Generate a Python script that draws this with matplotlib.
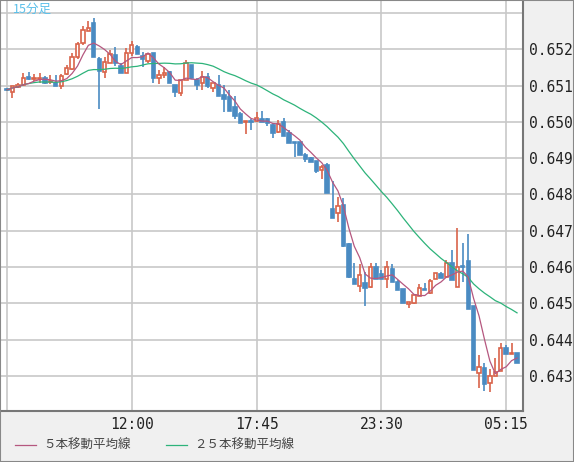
import matplotlib
matplotlib.use("Agg")
import matplotlib.pyplot as plt
from matplotlib.lines import Line2D
from matplotlib.patches import Rectangle
import numpy as np
import pandas as pd

plt.rcParams['font.family'] = ['Noto Sans CJK JP', 'DejaVu Sans']

# 15 minute bars, open / high / low / close
opens = [.65091, .65083, .65096, .65102, .65124, .65118, .65118, .65121, .65110, .65107,
         .65099, .65132, .65146, .65179, .65218, .65251, .65273, .65173, .65138, .65162,
         .65184, .65154, .65135, .65190, .65207, .65182, .65168, .65190, .65121, .65129,
         .65138, .65102, .65080, .65116, .65157, .65116, .65107, .65124, .65094, .65102,
         .65074, .65069, .65041, .65022, .65000, .65003, .65003, .65008, .65008, .64992,
         .64972, .65000, .64970, .64945, .64945, .64909, .64901, .64892, .64868, .64881,
         .64760, .64749, .64771, .64664, .64567, .64548, .64556, .64545, .64600, .64581,
         .64567, .64595, .64559, .64540, .64499, .64501, .64521, .64540, .64529, .64567,
         .64581, .64573, .64611, .64545, .64603, .64617, .64493, .64308, .64322, .64281,
         .64300, .64314, .64377, .64361, .64363]
highs = [.65094, .65099, .65107, .65135, .65138, .65132, .65135, .65127, .65129, .65129,
         .65132, .65157, .65190, .65220, .65264, .65278, .65286, .65179, .65179, .65198,
         .65207, .65162, .65204, .65223, .65212, .65193, .65190, .65190, .65143, .65151,
         .65140, .65102, .65116, .65171, .65157, .65121, .65140, .65135, .65107, .65129,
         .65102, .65088, .65072, .65027, .65003, .65008, .65027, .65030, .65011, .64997,
         .65005, .65011, .64978, .64945, .64945, .64914, .64903, .64892, .64881, .64887,
         .64837, .64793, .64791, .64667, .64611, .64609, .64587, .64611, .64611, .64592,
         .64617, .64609, .64565, .64540, .64504, .64523, .64554, .64556, .64567, .64584,
         .64587, .64620, .64647, .64708, .64667, .64691, .64493, .64358, .64336, .64319,
         .64350, .64391, .64386, .64391, .64363]
lows = [.65085, .65066, .65094, .65099, .65116, .65113, .65107, .65105, .65105, .65099,
        .65091, .65129, .65143, .65173, .65212, .65251, .65179, .65036, .65121, .65162,
        .65154, .65135, .65135, .65182, .65187, .65151, .65162, .65107, .65105, .65121,
        .65107, .65069, .65072, .65116, .65118, .65088, .65088, .65094, .65083, .65072,
        .65027, .65030, .65008, .64997, .64967, .64978, .65000, .65000, .64989, .64956,
        .64970, .64961, .64942, .64903, .64909, .64890, .64890, .64859, .64843, .64804,
        .64735, .64724, .64656, .64570, .64554, .64532, .64493, .64543, .64567, .64567,
        .64543, .64559, .64537, .64501, .64487, .64499, .64521, .64537, .64526, .64567,
        .64570, .64573, .64565, .64545, .64559, .64485, .64317, .64267, .64259, .64256,
        .64300, .64314, .64361, .64361, .64336]
closes = [.65088, .65099, .65102, .65121, .65118, .65121, .65121, .65107, .65113, .65099,
          .65127, .65149, .65179, .65215, .65253, .65259, .65179, .65140, .65165, .65187,
          .65162, .65135, .65190, .65212, .65187, .65173, .65187, .65121, .65129, .65135,
          .65107, .65083, .65116, .65162, .65121, .65102, .65124, .65099, .65107, .65072,
          .65063, .65030, .65016, .64997, .65003, .65000, .65011, .65000, .64997, .64970,
          .64994, .64961, .64942, .64942, .64909, .64898, .64890, .64865, .64876, .64804,
          .64735, .64768, .64658, .64573, .64554, .64578, .64543, .64600, .64567, .64567,
          .64600, .64559, .64537, .64501, .64504, .64523, .64543, .64537, .64562, .64584,
          .64570, .64611, .64565, .64600, .64600, .64485, .64317, .64325, .64278, .64300,
          .64311, .64377, .64361, .64363, .64336]

tick_pos = [0, 23, 46, 69, 92]
tick_lbl = ["", "12:00", "17:45", "23:30", "05:15"]
y_ticks = [0.643, 0.644, 0.645, 0.646, 0.647, 0.648, 0.649, 0.650, 0.651, 0.652, 0.653]

up_col = '#d9634a'
dn_col = '#4a8bc2'
ma5_col = '#b5577f'
ma25_col = '#2db37a'

fig = plt.figure(figsize=(5.74, 4.62), dpi=100, facecolor='#f0f0f0')
ax = fig.add_axes([1/574, 1 - 411/462, 522/574, 410/462])
ax.set_facecolor('white')

x = np.arange(len(closes))
ser = pd.Series(closes)
ma5 = ser.rolling(5, min_periods=1).mean()
ma25 = ser.rolling(25, min_periods=1).mean()

w = 0.62
for i in x:
    o, h, l, c = opens[i], highs[i], lows[i], closes[i]
    up = c >= o
    col = up_col if up else dn_col
    ax.vlines(i, l, h, color=col, lw=1.2, zorder=2)
    rect = Rectangle((i - w/2, min(o, c)), w, max(abs(c - o), 0.000012),
                     facecolor='white' if up else col, edgecolor=col, lw=1.2, zorder=3)
    ax.add_patch(rect)

ax.plot(x, ma25, color=ma25_col, lw=0.9, zorder=4)
ax.plot(x, ma5, color=ma5_col, lw=0.9, zorder=4)

ax.set_xlim(-1.1, 95.1)
ax.set_ylim(0.642036, 0.65333)
ax.set_xticks(tick_pos)
ax.set_xticklabels(tick_lbl, family='DejaVu Sans Mono', fontsize=10.5, color='#222')
ax.set_yticks(y_ticks)
ax.set_yticklabels([f"{v:.3f}" for v in y_ticks[:-1]] + [""],
                   family='DejaVu Sans Mono', fontsize=10.5, color='#222')
ax.yaxis.tick_right()
ax.tick_params(length=0, pad=4)
ax.grid(True, color='#c8c8c8', lw=1.2)
ax.set_axisbelow(True)
for s in ['left', 'top']:
    ax.spines[s].set_visible(False)
for s in ['right', 'bottom']:
    ax.spines[s].set_color('#777')
    ax.spines[s].set_linewidth(1.5)

ax.text(0.022, 0.995, "15分足", transform=ax.transAxes, ha='left', va='top',
        color='#5bc0ea', fontsize=9)

# legend along the bottom
fig.add_artist(Line2D([15/574, 36/574], [1 - 445/462] * 2, color=ma5_col, lw=0.9))
fig.text(43/574, 1 - 445/462, "５本移動平均線", va='center', fontsize=9, color='#444')
fig.add_artist(Line2D([166/574, 187/574], [1 - 445/462] * 2, color=ma25_col, lw=0.9))
fig.text(194/574, 1 - 445/462, "２５本移動平均線", va='center', fontsize=9, color='#444')
fig.add_artist(Rectangle((0, 0), 1, 1, transform=fig.transFigure, fill=False,
                         edgecolor='#888', lw=1.5))

fig.savefig("out.png", dpi=100, facecolor=fig.get_facecolor())
